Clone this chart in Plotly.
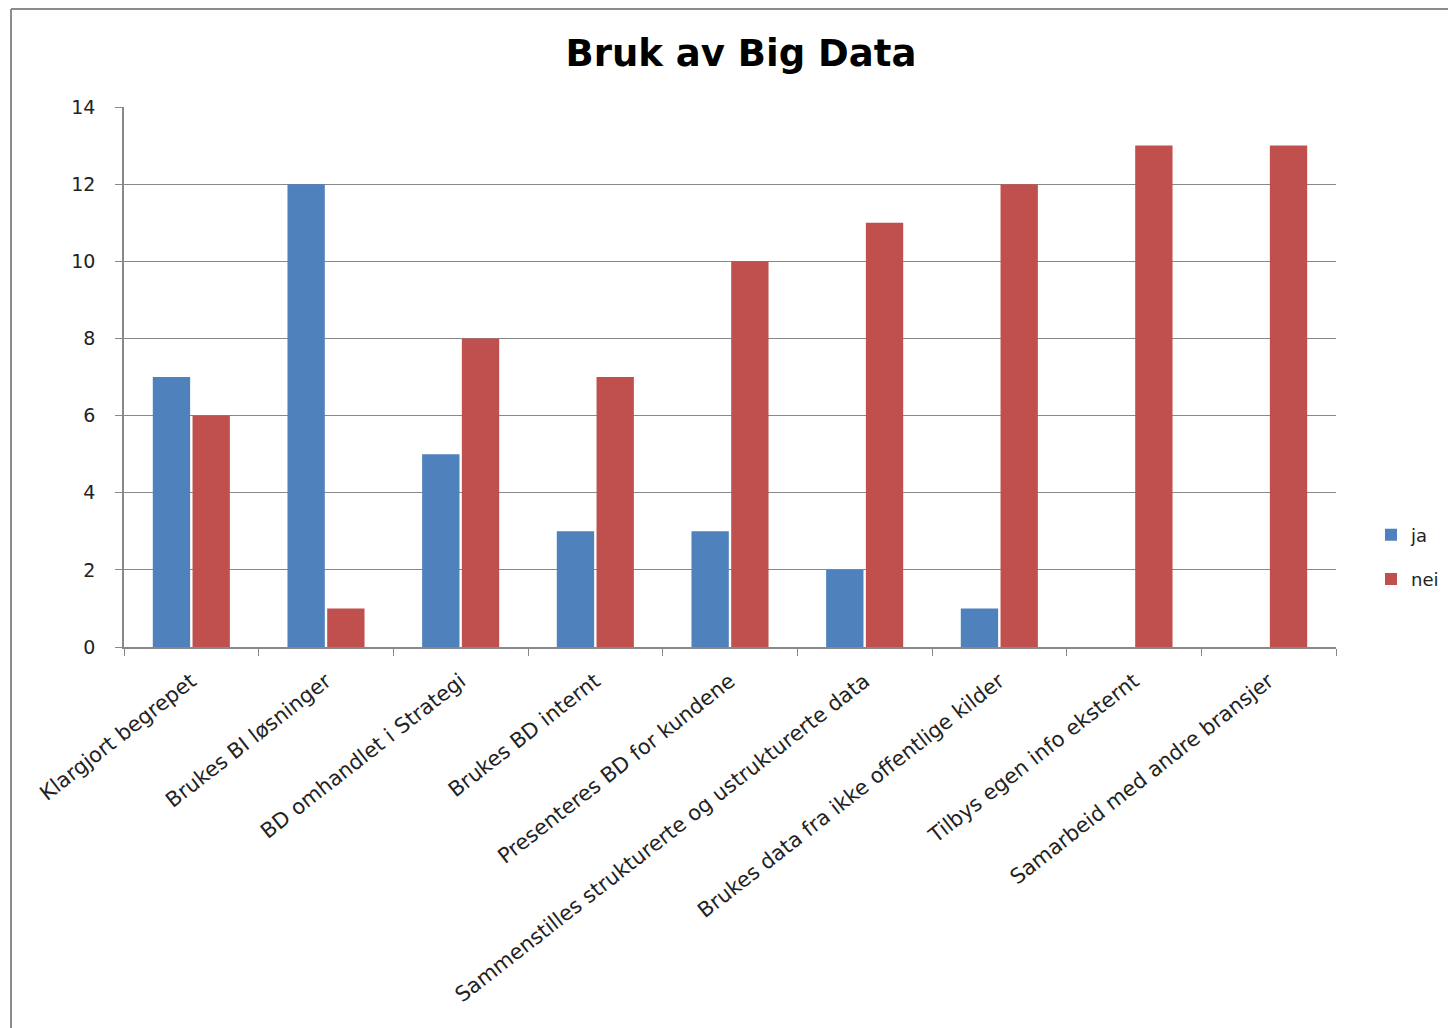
import plotly.graph_objects as go

categories = [
    "Klargjort begrepet",
    "Brukes BI løsninger",
    "BD omhandlet i Strategi",
    "Brukes BD internt",
    "Presenteres BD for kundene",
    "Sammenstilles strukturerte og ustrukturerte data",
    "Brukes data fra ikke offentlige kilder",
    "Tilbys egen info eksternt",
    "Samarbeid med andre bransjer",
]
ja = [7, 12, 5, 3, 3, 2, 1, 0, 0]
nei = [6, 1, 8, 7, 10, 11, 12, 13, 13]
y_ticks = [0, 2, 4, 6, 8, 10, 12, 14]

OFF = 8  # default page body margin
W, H = 1456 - OFF, 1028 - OFF
L, T = 124 - OFF, 107 - OFF
pw, ph = 1212, 540
R, B = W - L - pw, H - T - ph

font = "DejaVu Sans, Verdana, sans-serif"

fig = go.Figure()
fig.add_trace(go.Bar(name="ja", legendgroup="a", x=categories, y=ja, marker=dict(color="#4F81BD", line=dict(width=0))))
fig.add_trace(go.Bar(name="nei", legendgroup="b", x=categories, y=nei, marker=dict(color="#C0504D", line=dict(width=0))))


def px(xp):
    return (xp - OFF - L) / pw


def py(yp):
    return (T + ph - (yp - OFF)) / ph


fig.update_layout(
    width=W, height=H,
    margin=dict(l=L, r=R, t=T, b=B, autoexpand=False),
    paper_bgcolor="white", plot_bgcolor="white",
    barmode="group", bargap=0.41, bargroupgap=0.06,
    title=dict(text="<b>Bruk av Big Data</b>", x=(741 - OFF) / W, xanchor="center",
               y=1 - (53 - OFF) / H, yanchor="middle", font=dict(family=font, size=37, color="black")),
    font=dict(family=font, size=18, color="#222222"),
    legend=dict(x=px(1371), xanchor="left", y=py(557), yanchor="middle",
                font=dict(family=font, size=18, color="#222222"), itemwidth=30, tracegroupgap=18,
                bgcolor="rgba(0,0,0,0)"),
    showlegend=True,
)
fig.update_xaxes(
    type="category", tickson="boundaries", ticks="outside", ticklen=7, tickcolor="#888888",
    showline=True, linecolor="#888888", linewidth=1.5, tickangle=-38, ticklabelstandoff=12,
    tickfont=dict(family=font, size=21, color="#222222"), showgrid=False,
)
fig.update_yaxes(
    range=[0, 14], tickvals=y_ticks, ticks="outside", ticklen=7, tickcolor="#888888",
    showline=True, linecolor="#888888", linewidth=1.5, showgrid=True, gridcolor="#888888", gridwidth=1,
    zeroline=False, tickfont=dict(family=font, size=19, color="#222222"), ticklabelstandoff=16,
)

# chart frame (left and top edges visible)
fig.add_shape(type="line", xref="paper", yref="paper",
              x0=px(11), x1=px(11), y0=py(1040), y1=py(9),
              line=dict(color="#8c8c8c", width=2))
fig.add_shape(type="line", xref="paper", yref="paper",
              x0=px(11), x1=px(1470), y0=py(9), y1=py(9),
              line=dict(color="#8c8c8c", width=2))

fig.write_html("out.html")
